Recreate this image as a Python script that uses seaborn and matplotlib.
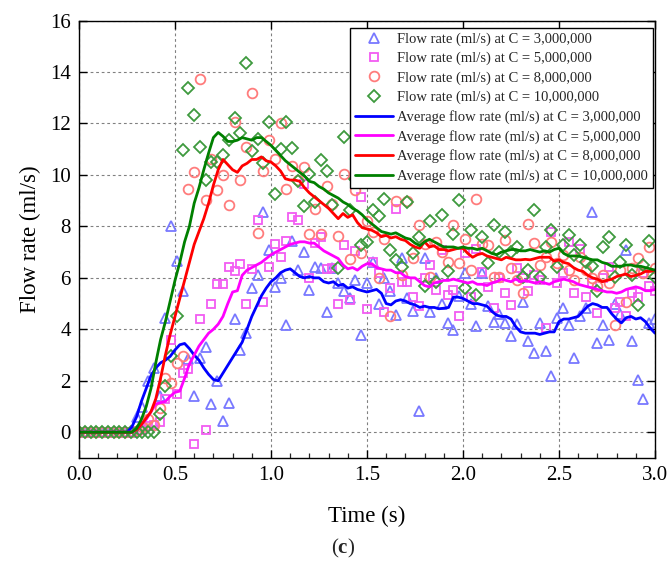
import numpy as np
import pandas as pd
import matplotlib
matplotlib.use("Agg")
import matplotlib.pyplot as plt
from matplotlib.ticker import MultipleLocator
import seaborn as sns

# ---------------- data ----------------
t_pts = np.round(np.arange(101) * 0.03, 2)     # sampling times of measured points (s)
t_line = np.round(np.arange(121) * 0.025, 3)   # sampling times of averaged curves (s)

flow_3M = [0]*10 + [
    0.6, 1.0, 2.0, 2.5, 1.4, 4.45, 8.0, 6.65, 5.5, 2.85,
    1.4, 2.9, 3.3, 1.1, 2.0, 0.44, 1.12, 4.4, 3.2, 3.85,
    5.6, 6.1, 8.55, 7.08, 5.65, 5.98, 4.15, 7.42, 6.3, 7.01,
    5.53, 6.43, 6.37, 4.69, 6.37, 5.79, 5.47, 5.2, 5.9, 3.79,
    5.8, 6.6, 4.97, 6.0, 5.5, 4.55, 6.76, 5.2, 4.72, 0.82,
    6.76, 4.69, 6.0, 5.0, 4.24, 3.98, 5.3, 6.18, 5.0, 4.13,
    6.18, 4.9, 4.3, 4.6, 4.24, 3.73, 4.2, 5.08, 3.53, 3.08,
    4.24, 3.15, 2.18, 4.44, 4.82, 4.18, 2.89, 4.5, 4.82, 8.56,
    3.47, 4.18, 3.57, 5.0, 4.6, 7.08, 3.53, 2.05, 1.28, 4.24,
    4.4]
flow_5M = [0]*10 + [
    0.05, 0.1, 0.25, 0.3, 0.4, 1.3, 3.6, 1.5, 2.3, 2.46,
    -0.46, 4.42, 0.1, 4.99, 5.75, 5.75, 6.43, 6.28, 6.52, 4.99,
    6.35, 8.24, 5.05, 6.43, 7.32, 6.82, 7.43, 8.36, 8.24, 9.65,
    5.98, 7.35, 7.6, 6.33, 6.37, 5.0, 7.27, 5.13, 7.05, 9.14,
    4.8, 6.6, 6.2, 4.68, 5.6, 8.69, 5.85, 5.85, 5.27, 4.89,
    5.98, 6.5, 5.53, 7.08, 5.34, 5.53, 4.52, 6.95, 5.27, 7.14,
    6.24, 5.66, 4.82, 6.0, 5.4, 4.93, 6.38, 6.0, 5.47, 6.1,
    5.9, 4.05, 7.79, 5.79, 6.2, 7.4, 5.4, 7.14, 5.27, 5.8,
    4.63, 6.0, 6.43, 4.82, 5.08, 4.5, 5.4, 5.27, 6.2, 5.7,
    5.5]
flow_8M = [0]*10 + [
    0.05, 0.2, 0.5, 0.3, 0.96, 2.1, 1.9, 2.7, 2.98, 9.47,
    10.12, 13.73, 9.01, 10.6, 9.43, 9.98, 8.83, 12.04, 9.79, 11.1,
    13.2, 7.73, 10.17, 11.34, 10.63, 12.02, 9.45, 10.35, 9.8, 10.32,
    7.71, 8.67, 7.7, 9.57, 8.87, 7.62, 10.04, 6.74, 9.4, 6.98,
    8.2, 7.8, 5.98, 7.5, 4.5, 8.97, 6.11, 9.0, 6.76, 8.05,
    7.3, 6.05, 7.4, 7.0, 6.6, 8.05, 6.56, 7.5, 6.3, 9.08,
    7.3, 7.27, 6.05, 6.05, 7.47, 6.37, 5.92, 5.4, 8.11, 7.34,
    6.5, 6.8, 7.4, 6.56, 6.9, 6.3, 5.92, 6.8, 6.3, 6.0,
    5.7, 6.1, 5.8, 4.18, 6.3, 5.08, 6.4, 6.76, 6.2, 7.2,
    6.4]
flow_10M = [0]*14 + [
    0.72, 1.79, 2.95, 4.5, 10.97, 13.37,
    12.34, 11.1, 9.79, 10.5, 10.5, 10.77, 11.35, 12.22, 11.62, 14.35,
    10.92, 11.4, 10.48, 12.04, 9.26, 11.0, 12.04, 11.06, 9.76, 8.78,
    10.04, 8.93, 10.59, 10.16, 8.82, 6.37, 11.49, 8.62, 9.85, 7.29,
    7.38, 8.62, 8.4, 9.05, 7.09, 6.69, 6.41, 8.95, 6.95, 7.6,
    5.69, 8.21, 5.85, 8.43, 6.28, 7.7, 9.01, 5.6, 7.85, 5.34,
    7.6, 6.56, 8.05, 7.0, 7.79, 7.0, 7.21, 6.05, 6.3, 8.63,
    6.05, 7.2, 7.85, 6.43, 7.27, 7.66, 6.9, 7.27, 6.6, 6.46,
    5.47, 7.2, 7.57, 6.05, 6.6, 7.27, 6.11, 4.95, 6.5, 7.43,
    6.05]

avg_3M = [0]*11 + [
    0.2, 0.6, 1.2, 1.7, 2.2, 2.5, 2.7, 2.8, 2.95, 3.2,
    3.4, 3.45, 3.25, 3.0, 2.8, 2.5, 2.25, 2.05, 2.0, 2.3,
    2.6, 2.9, 3.2, 3.5, 4.0, 4.5, 4.9, 5.3, 5.6, 5.85,
    6.0, 6.2, 6.3, 6.35, 6.2, 6.05, 6.0, 6.05, 6.0, 6.0,
    5.85, 5.8, 5.85, 5.7, 5.75, 5.6, 5.65, 5.55, 5.5, 5.45,
    5.5, 5.55, 5.4, 5.0, 4.95, 5.1, 5.15, 5.1, 5.0, 4.95,
    4.85, 4.9, 4.85, 4.85, 4.8, 4.82, 4.85, 5.25, 5.25, 5.2,
    5.1, 5.0, 5.0, 4.95, 4.9, 4.7, 4.55, 4.5, 4.5, 4.4,
    4.1, 3.9, 3.85, 3.85, 3.85, 3.8, 3.85, 3.9, 3.9, 4.3,
    4.4, 4.4, 4.45, 4.5, 4.7, 4.9, 5.0, 4.95, 4.85, 4.85,
    4.6, 4.4, 4.25, 4.45, 4.5, 4.4, 4.45, 4.3, 4.05, 3.85]
avg_5M = [0]*12 + [
    0.1, 0.3, 0.5, 0.8, 1.1, 1.15, 1.2, 1.4, 1.55,
    1.6, 2.1, 2.65, 3.0, 3.35, 3.6, 3.85, 4.0, 4.2, 4.5,
    5.0, 5.45, 5.5, 6.1, 6.3, 6.4, 6.5, 6.6, 6.75, 6.9,
    7.0, 7.1, 7.2, 7.3, 7.35, 7.4, 7.4, 7.35, 7.35, 7.2,
    7.05, 6.95, 6.85, 6.75, 6.5, 6.35, 6.4, 6.3, 6.45, 6.55,
    6.55, 6.4, 6.35, 6.3, 6.3, 6.2, 6.2, 6.05, 6.0, 6.0,
    5.85, 5.7, 5.65, 5.8, 5.85, 5.9, 5.9, 5.95, 5.9, 5.85,
    5.8, 5.85, 5.75, 5.75, 5.7, 5.8, 5.85, 5.95, 5.9, 5.85,
    5.95, 5.85, 5.9, 5.85, 5.8, 5.85, 5.8, 5.75, 5.85, 5.9,
    5.95, 5.9, 5.85, 5.75, 5.7, 5.65, 5.6, 5.55, 5.5, 5.45,
    5.45, 5.4, 5.45, 5.55, 5.6, 5.65, 5.6, 5.5, 5.5, 5.55]
avg_8M = [0]*12 + [
    0.1, 0.3, 0.55, 0.8, 1.3, 2.1, 3.0, 3.8, 4.5,
    5.2, 5.9, 6.6, 7.3, 7.8, 8.3, 8.9, 9.6, 10.2, 10.6,
    10.4, 10.2, 10.1, 10.35, 10.45, 10.6, 10.6, 10.7, 10.55, 10.5,
    10.35, 10.15, 9.85, 9.8, 9.8, 9.75, 9.5, 9.3, 9.15, 9.0,
    8.85, 8.7, 8.5, 8.3, 8.5, 8.35, 8.45, 8.15, 7.95, 7.9,
    7.85, 7.75, 7.6, 7.65, 7.55, 7.6, 7.5, 7.45, 7.3, 7.2,
    7.15, 7.4, 7.2, 7.25, 7.1, 7.1, 7.05, 7.1, 7.15, 7.15,
    6.95, 6.8, 6.9, 6.95, 6.85, 6.8, 6.75, 6.7, 6.8, 6.75,
    6.7, 6.7, 6.72, 6.7, 6.75, 6.8, 6.8, 6.8, 6.65, 6.7,
    6.6, 6.55, 6.4, 6.3, 6.25, 6.1, 6.0, 5.95, 5.85, 5.9,
    5.95, 6.05, 6.1, 6.15, 6.05, 6.1, 6.15, 6.25, 6.25, 6.3]
avg_10M = [0]*12 + [
    0.15, 0.5, 1.0, 1.7, 2.7, 3.6, 4.3, 5.1, 5.9,
    6.6, 7.4, 8.0, 8.9, 9.5, 10.2, 10.85, 11.45, 11.65, 11.5,
    11.3, 11.3, 11.35, 11.45, 11.4, 11.35, 11.45, 11.45, 11.3, 11.15,
    10.95, 10.75, 10.55, 10.4, 10.25, 10.1, 9.95, 9.75, 9.7, 9.55,
    9.45, 9.3, 9.2, 9.1, 8.95, 8.85, 8.7, 8.6, 8.45, 8.25,
    8.1, 7.95, 7.8, 7.75, 7.7, 7.75, 7.65, 7.55, 7.5, 7.35,
    7.25, 7.4, 7.5, 7.4, 7.3, 7.2, 7.2, 7.2, 7.15, 7.2,
    7.15, 7.15, 7.1, 7.15, 7.05, 6.95, 6.9, 7.0, 7.05, 7.1,
    7.1, 7.05, 7.05, 7.1, 7.05, 7.0, 7.05, 7.0, 7.1, 7.15,
    6.95, 6.85, 6.85, 6.85, 6.8, 6.75, 6.7, 6.7, 6.6, 6.55,
    6.45, 6.45, 6.45, 6.5, 6.5, 6.45, 6.45, 6.4, 6.35, 6.3]

point_labels = ["Flow rate (ml/s) at C = 3,000,000",
                "Flow rate (ml/s) at C = 5,000,000",
                "Flow rate (ml/s) at C = 8,000,000",
                "Flow rate (ml/s) at C = 10,000,000"]
line_labels = ["Average flow rate (ml/s) at C = 3,000,000",
               "Average flow rate (ml/s) at C = 5,000,000",
               "Average flow rate (ml/s) at C = 8,000,000",
               "Average flow rate (ml/s) at C = 10,000,000"]
x_ticks = [0.0, 0.5, 1.0, 1.5, 2.0, 2.5, 3.0]
y_ticks = [0, 2, 4, 6, 8, 10, 12, 14, 16]

# ---------------- style ----------------
sns.set_theme(style="ticks")
plt.rcParams["font.family"] = ["Liberation Serif", "DejaVu Serif"]
plt.rcParams["mathtext.fontset"] = "custom"
plt.rcParams["mathtext.rm"] = "Liberation Serif"
plt.rcParams["mathtext.bf"] = "Liberation Serif:bold"
plt.rcParams["axes.linewidth"] = 1.0

fig = plt.figure(figsize=(6.7, 5.65), dpi=100)
ax = fig.add_axes([0.1179, 0.1894, 0.8597, 0.7743])

pt_series = [flow_3M, flow_5M, flow_8M, flow_10M]
pt_markers = ["^", "s", "o", "D"]
pt_colors = ["#7878ff", "#f25cf2", "#ff7c7c", "#3e9a3e"]
pt_sizes = [7.5, 6.0, 7.0, 6.2]

for ys, mk, c, ms, lab in zip(pt_series, pt_markers, pt_colors, pt_sizes, point_labels):
    df = pd.DataFrame({"t": t_pts, "v": ys})
    sns.lineplot(data=df, x="t", y="v", ax=ax, linestyle="none", marker=mk,
                 markersize=ms, markerfacecolor="none", markeredgecolor=c,
                 markeredgewidth=1.3, color=c, label=lab, errorbar=None,
                 sort=False)

ln_series = [avg_3M, avg_5M, avg_8M, avg_10M]
ln_colors = ["#0000ff", "#ff00ff", "#ff0000", "#008000"]
for ys, c, lab in zip(ln_series, ln_colors, line_labels):
    df = pd.DataFrame({"t": t_line, "v": ys})
    sns.lineplot(data=df, x="t", y="v", ax=ax, color=c, linewidth=2.0,
                 label=lab, errorbar=None, sort=False)

ax.set_xlim(0, 3.0)
ax.set_ylim(-1, 16)
ax.set_xticks(x_ticks)
ax.set_xticklabels([f"{v:.1f}" for v in x_ticks])
ax.set_yticks(y_ticks)
ax.set_yticklabels([str(v) for v in y_ticks])
ax.xaxis.set_minor_locator(MultipleLocator(0.1))
ax.tick_params(which="major", direction="in", length=6, width=1.0,
               top=True, right=True, labelsize=15, colors="black", pad=6)
ax.tick_params(which="minor", direction="in", length=3.5, width=0.9,
               top=False, right=False)
ax.grid(True, which="major", linestyle=(0, (2.5, 2.5)), color="#808080",
        linewidth=0.8)
for s in ax.spines.values():
    s.set_color("black")
    s.set_linewidth(1.0)

ax.set_xlabel("Time (s)", fontsize=16.5, labelpad=15, color="black")
ax.set_ylabel("Flow rate (ml/s)", fontsize=16.5, labelpad=6, color="black")

leg = ax.legend(loc="upper right", bbox_to_anchor=(0.9965, 0.984),
                borderaxespad=0, fontsize=10.5, frameon=True, fancybox=False,
                edgecolor="black", framealpha=1, labelspacing=0.4,
                handlelength=2.65, handletextpad=0.25, borderpad=0.35,
                numpoints=1)
leg.get_frame().set_linewidth(1.0)

fig.text(0.512, 0.029, r"($\mathbf{c}$)", ha="center", va="center",
         fontsize=15)

fig.savefig("out.png", dpi=100)
